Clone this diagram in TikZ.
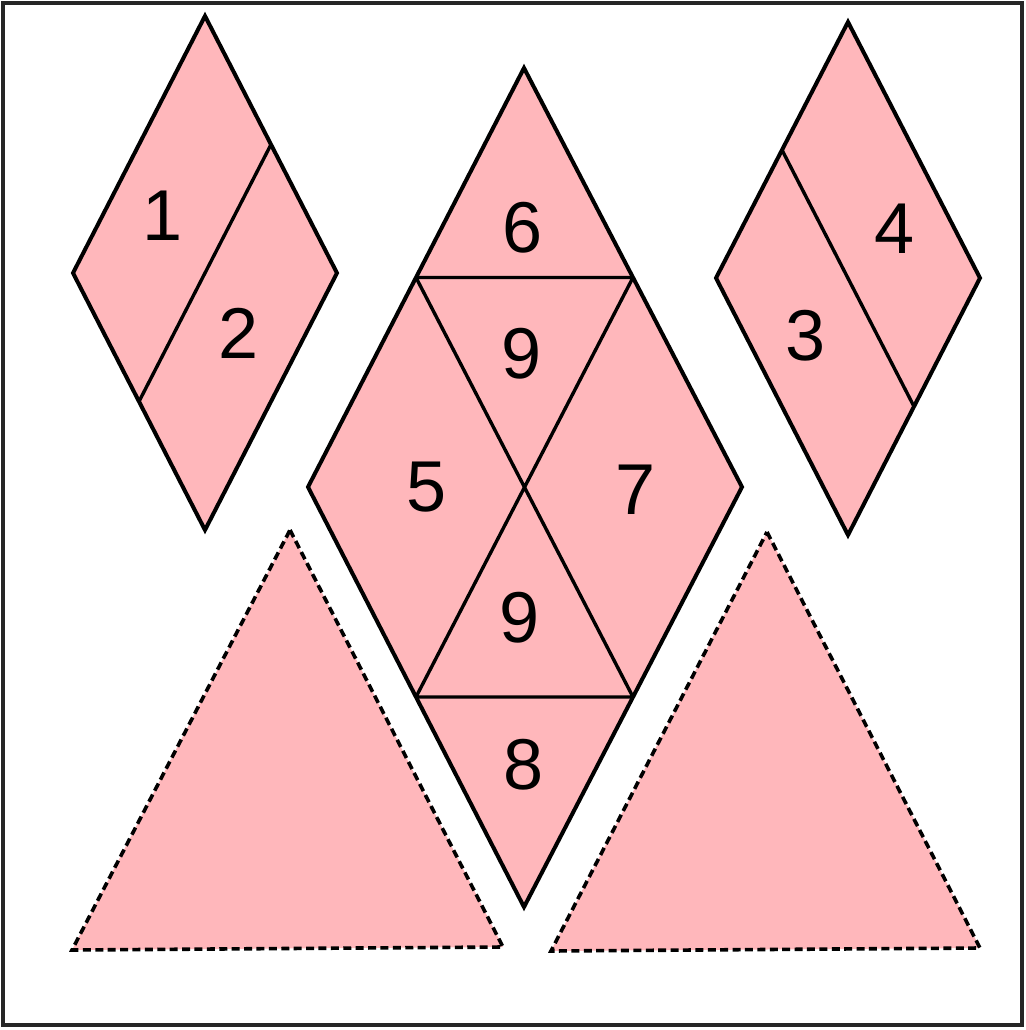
\documentclass[tikz,border=0pt]{standalone}
\usepackage{fontspec}
\setmainfont{Liberation Sans}
\usetikzlibrary{calc}
\definecolor{piece}{HTML}{FFB7BB}
\tikzset{
  tile/.style={fill=piece,draw=black,line width=2pt,line join=miter},
  cutline/.style={draw=black,line width=1.7pt},
  ghost/.style={fill=piece,draw=black,line width=1.8pt,dash pattern=on 4pt off 2.2pt},
  num/.style={font=\fontsize{36}{40}\selectfont,inner sep=0pt},
  frame/.style={draw=black!85,line width=2pt},
}
\begin{document}
\begin{tikzpicture}[x=0.5pt,y=-0.5pt]
\useasboundingbox (0,0) rectangle (1025,1030);
\draw[frame] (3,3) rectangle (1022,1025);
% left rhombus: pieces 1 and 2
\coordinate (lt) at (205,16); \coordinate (lr) at (337,273);
\coordinate (lb) at (205,530); \coordinate (ll) at (73,273);
\draw[tile] (lt) -- (lr) -- (lb) -- (ll) -- cycle;
\draw[cutline] ($(lt)!0.5!(lr)$) -- ($(ll)!0.5!(lb)$);
\node[num] (n1) at (163,216) {1};
\node[num] (n2) at (239,333) {2};
% right rhombus: pieces 3 and 4
\coordinate (rt) at (848,22); \coordinate (rr) at (980,278);
\coordinate (rb) at (848,535); \coordinate (rl) at (716,278);
\draw[tile] (rt) -- (rr) -- (rb) -- (rl) -- cycle;
\draw[cutline] ($(rt)!0.5!(rl)$) -- ($(rr)!0.5!(rb)$);
\node[num] (n4) at (895,229) {4};
\node[num] (n3) at (806,336) {3};
% centre rhombus: pieces 5 to 9
\coordinate (ct) at (524,68); \coordinate (cr) at (742,487);
\coordinate (cb) at (524,907); \coordinate (cl) at (308,487);
\coordinate (ul) at ($(ct)!0.5!(cl)$); \coordinate (ur) at ($(ct)!0.5!(cr)$);
\coordinate (dl) at ($(cb)!0.5!(cl)$); \coordinate (dr) at ($(cb)!0.5!(cr)$);
\draw[tile] (ct) -- (cr) -- (cb) -- (cl) -- cycle;
\draw[cutline] (ul) -- (ur) (dl) -- (dr) (ul) -- (dr) (ur) -- (dl);
\node[num] (n6) at (523,228) {6};
\node[num] (n9a) at (522,354) {9};
\node[num] (n5) at (427,487) {5};
\node[num] (n7) at (636,490) {7};
\node[num] (n9b) at (520,618) {9};
\node[num] (n8) at (524,765) {8};
% dashed triangles
\draw[ghost] (290,530) -- (503,947) -- (72,950) -- cycle;
\draw[ghost] (767,532) -- (980,948) -- (551,951) -- cycle;
\end{tikzpicture}
\end{document}
